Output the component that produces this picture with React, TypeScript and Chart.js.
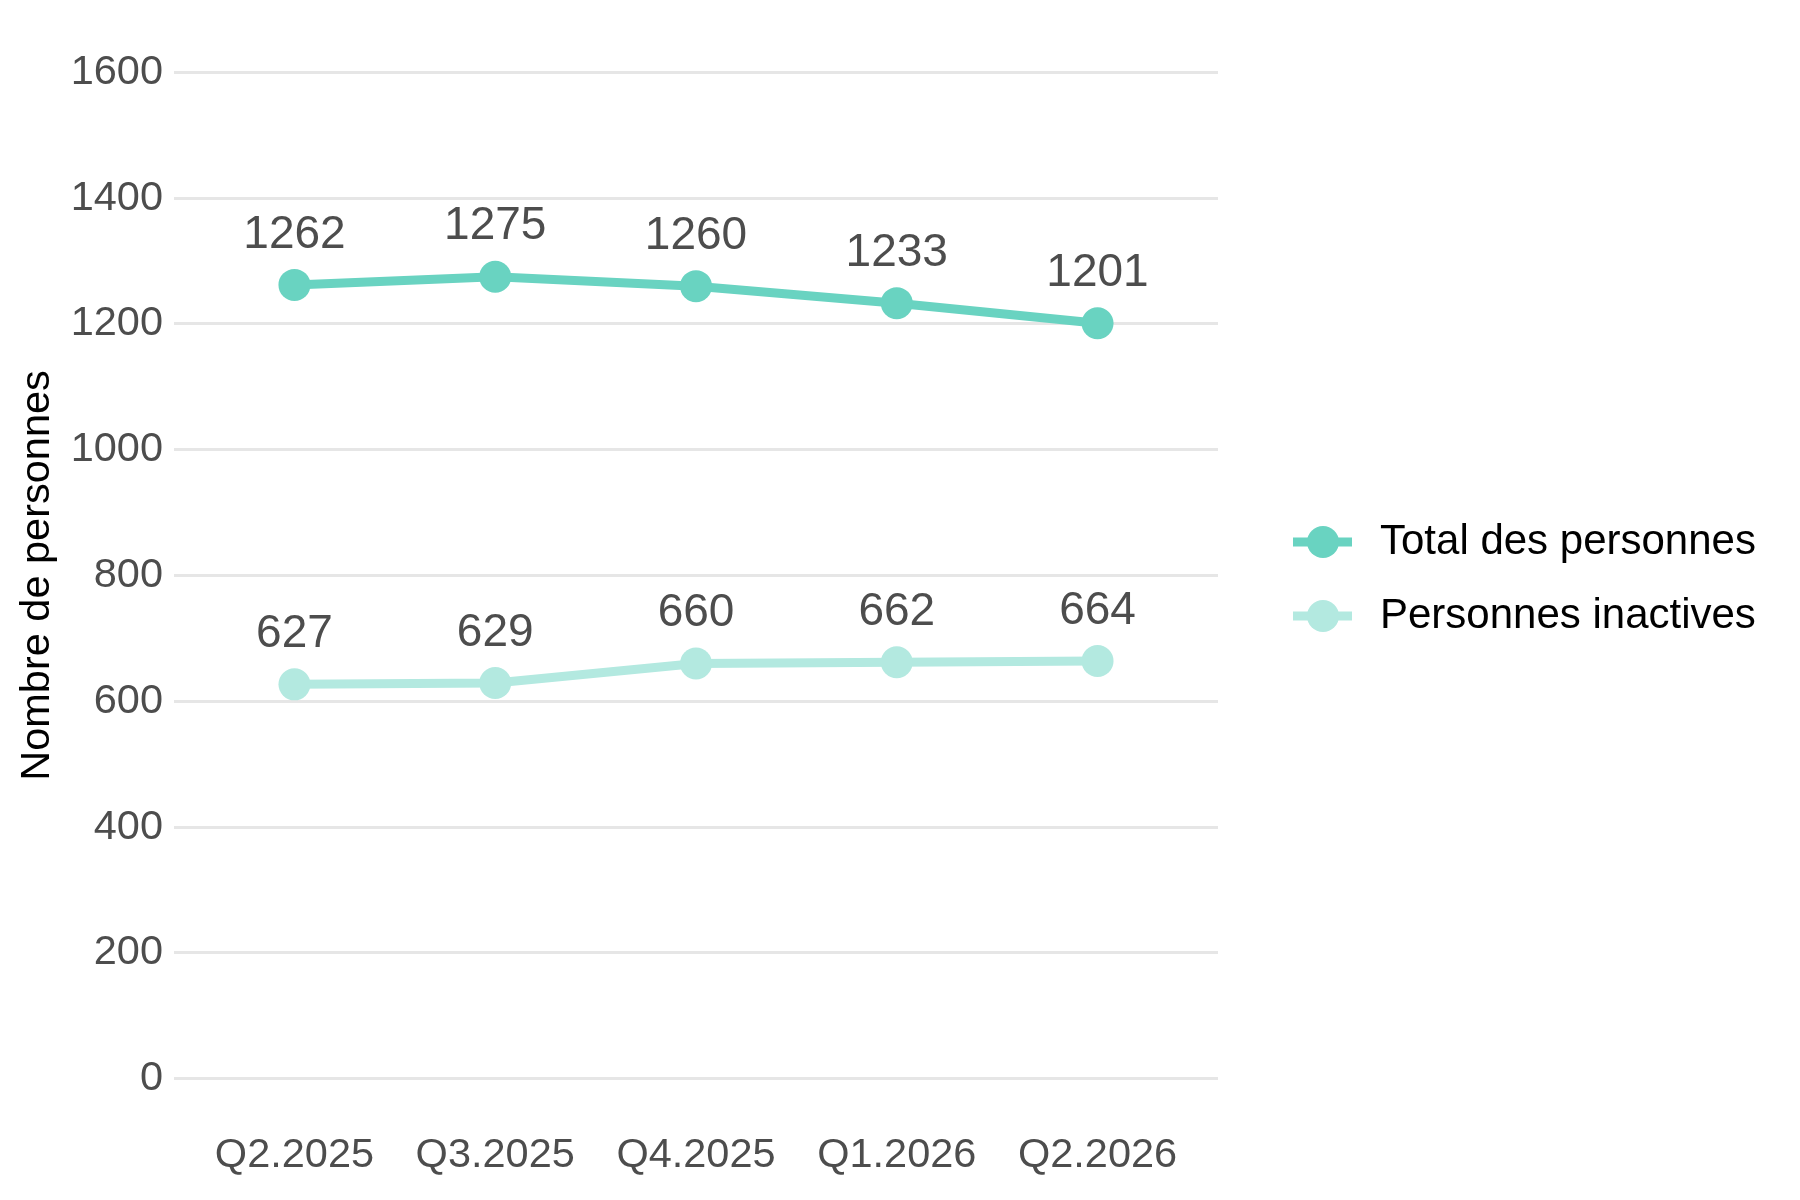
import { useEffect, useRef } from "react";
import { Chart, registerables } from "chart.js";
Chart.register(...registerables);

const categories = ["Q2.2025", "Q3.2025", "Q4.2025", "Q1.2026", "Q2.2026"];
const totalValues = [1262, 1275, 1260, 1233, 1201];
const inactiveValues = [627, 629, 660, 662, 664];
const yTicks = [0, 200, 400, 600, 800, 1000, 1200, 1400, 1600];
const seriesNames = ["Total des personnes", "Personnes inactives"];

const FONT = "'Liberation Sans', Arial, sans-serif";
const TOTAL_COLOR = "#69d3c1";
const INACTIVE_COLOR = "#b3e9e0";

// numbers above each point
const valueLabels = {
  id: "valueLabels",
  afterDatasetsDraw(chart: any) {
    const ctx = chart.ctx;
    ctx.save();
    ctx.font = `46px ${FONT}`;
    ctx.fillStyle = "#4d4d4d";
    ctx.textAlign = "center";
    ctx.textBaseline = "middle";
    chart.data.datasets.forEach((ds: any, i: number) => {
      const meta = chart.getDatasetMeta(i);
      meta.data.forEach((pt: any, j: number) => {
        ctx.fillText(String(ds.data[j].y), pt.x, pt.y - 50);
      });
    });
    ctx.restore();
  },
};

// legend on the right, line + dot key like ggplot
const sideLegend = {
  id: "sideLegend",
  afterDraw(chart: any) {
    const ctx = chart.ctx;
    const x0 = chart.chartArea.right + 75;
    const yStart = 542;
    const step = 74;
    ctx.save();
    chart.data.datasets.forEach((ds: any, i: number) => {
      const y = yStart + i * step;
      ctx.strokeStyle = ds.borderColor;
      ctx.lineWidth = 9;
      ctx.beginPath();
      ctx.moveTo(x0, y);
      ctx.lineTo(x0 + 59, y);
      ctx.stroke();
      ctx.fillStyle = ds.borderColor;
      ctx.beginPath();
      ctx.arc(x0 + 30, y, 16, 0, Math.PI * 2);
      ctx.fill();
      ctx.fillStyle = "#000000";
      ctx.font = `42px ${FONT}`;
      ctx.textAlign = "left";
      ctx.textBaseline = "middle";
      ctx.fillText(ds.label, x0 + 87, y);
    });
    ctx.restore();
  },
};

const LineChart = () => {
  const canvasRef = useRef<HTMLCanvasElement>(null);

  useEffect(() => {
    const canvas = canvasRef.current;
    if (!canvas) return;

    const makeSeries = (values: number[]) =>
      values.map((v, i) => ({ x: i + 1, y: v }));

    const chart = new Chart(canvas, {
      type: "line",
      data: {
        datasets: [
          {
            label: seriesNames[0],
            data: makeSeries(totalValues),
            borderColor: TOTAL_COLOR,
            backgroundColor: TOTAL_COLOR,
            pointBackgroundColor: TOTAL_COLOR,
            borderWidth: 9,
            pointRadius: 16,
            pointBorderWidth: 0,
            pointHoverRadius: 16,
            tension: 0,
          },
          {
            label: seriesNames[1],
            data: makeSeries(inactiveValues),
            borderColor: INACTIVE_COLOR,
            backgroundColor: INACTIVE_COLOR,
            pointBackgroundColor: INACTIVE_COLOR,
            borderWidth: 9,
            pointRadius: 16,
            pointBorderWidth: 0,
            pointHoverRadius: 16,
            tension: 0,
          },
        ],
      },
      options: {
        responsive: false,
        animation: false,
        devicePixelRatio: 1,
        layout: { padding: { left: 0, top: 22, right: 582, bottom: 0 } },
        plugins: {
          legend: { display: false },
          tooltip: { enabled: false },
        },
        scales: {
          x: {
            type: "linear",
            min: 0.4,
            max: 5.6,
            afterBuildTicks: (s: any) => {
              s.ticks = categories.map((_, i) => ({ value: i + 1 }));
            },
            afterFit: (s: any) => {
              s.height = 71;
              s.paddingLeft = 0;
              s.paddingRight = 0;
            },
            grid: { display: false, drawTicks: false },
            border: { display: false },
            ticks: {
              autoSkip: false,
              maxRotation: 0,
              padding: 2,
              color: "#4d4d4d",
              font: { family: FONT, size: 41.5 },
              callback: (v: any) => categories[Number(v) - 1] ?? "",
            },
          },
          y: {
            type: "linear",
            min: -80,
            max: 1680,
            afterBuildTicks: (s: any) => {
              s.ticks = yTicks.map((v) => ({ value: v }));
            },
            afterFit: (s: any) => {
              s.width = 174;
              s.paddingTop = 0;
              s.paddingBottom = 0;
            },
            grid: { color: "#e6e6e6", lineWidth: 3, drawTicks: false },
            border: { display: false },
            ticks: {
              padding: 11,
              color: "#4d4d4d",
              font: { family: FONT, size: 41.5 },
              callback: (v: any) => String(v),
            },
            title: {
              display: true,
              text: "Nombre de personnes",
              color: "#000000",
              font: { family: FONT, size: 41.5 },
              padding: { top: 13, bottom: 0 },
            },
          },
        },
      },
      plugins: [valueLabels, sideLegend],
    });

    return () => {
      chart.destroy();
    };
  }, []);

  return <canvas ref={canvasRef} width={1800} height={1200}></canvas>;
};

export default function App() {
  return (
    <div
      style={{
        position: "absolute",
        left: 0,
        top: 0,
        width: 1800,
        height: 1200,
        background: "#ffffff",
      }}
    >
      <LineChart />
    </div>
  );
}
